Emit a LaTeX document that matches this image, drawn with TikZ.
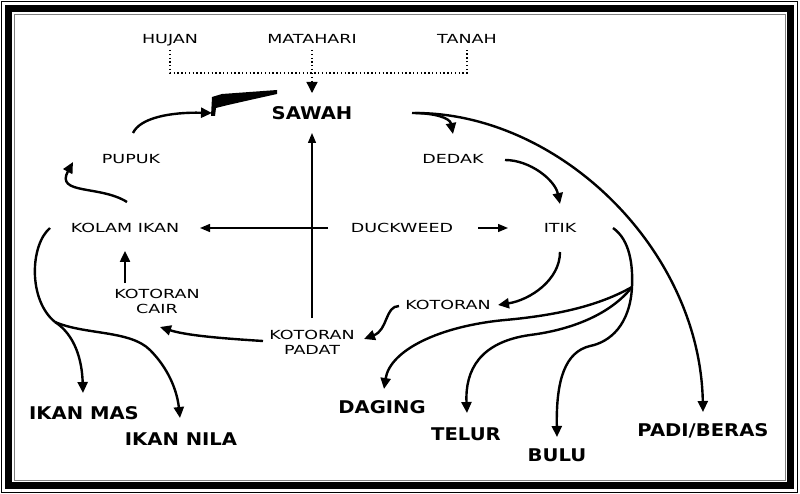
\documentclass[tikz,border=0pt]{standalone}
\usepackage{fontspec}
\usetikzlibrary{arrows.meta,calc}
\newfontfamily\rf[FakeStretch=1.4]{DejaVu Sans}
\newfontfamily\bff[FakeStretch=1.12]{DejaVu Sans}
\tikzset{
  rl/.style={font=\rf\fontsize{12.5}{15}\selectfont, inner sep=0pt, text height=9pt, text depth=0pt},
  rl2/.style={font=\rf\fontsize{12.5}{15}\selectfont, inner sep=0pt, align=center},
  bl/.style={font=\bff\bfseries\fontsize{17.5}{20}\selectfont, inner sep=0pt, text height=13pt, text depth=0pt},
  thk/.style={line width=2.4pt, -{Triangle[length=11pt,width=10pt]}},
  thkline/.style={line width=2.4pt},
  thn/.style={line width=1.3pt, -{Triangle[length=10pt,width=8pt]}},
  dot/.style={line width=1.3pt, dash pattern=on 1.3pt off 2.5pt},
}
\begin{document}
\begin{tikzpicture}[x=1pt,y=-1pt]
\useasboundingbox (0,0) rectangle (800,494);
\fill[white] (0,0) rectangle (800,494);
% frame
\draw[line width=1pt] (1.5,1.5) rectangle (797.5,492.5);
\draw[line width=7pt] (8.5,8.5) rectangle (790,485);
\draw[line width=0.6pt, gray] (14,14) rectangle (785,480);

% nodes
\node[rl] (hujan) at (170,39) {HUJAN};
\node[rl] (matahari) at (312,39) {MATAHARI};
\node[rl] (tanah) at (467,39) {TANAH};
\node[bl] (sawah) at (312,113) {SAWAH};
\node[rl] (pupuk) at (131,159) {PUPUK};
\node[rl] (dedak) at (453,159) {DEDAK};
\node[rl] (kolam) at (125,228) {KOLAM IKAN};
\node[rl] (duck) at (402,228) {DUCKWEED};
\node[rl] (itik) at (560,228) {ITIK};
\node[rl2] (cair) at (157,301) {KOTORAN\\CAIR};
\node[rl] (kotoran) at (448,305) {KOTORAN};
\node[rl2] (padat) at (312,342) {KOTORAN\\PADAT};
\node[bl] (ikanmas) at (84,413) {IKAN MAS};
\node[bl] (ikannila) at (181,439) {IKAN NILA};
\node[bl] (daging) at (382,407) {DAGING};
\node[bl] (telur) at (466,434) {TELUR};
\node[bl] (bulu) at (557,455) {BULU};
\node[bl] (padi) at (703,430) {PADI/BERAS};

% dotted inputs
\coordinate (dj) at (312,73);
\draw[dot] ($(hujan)+(0,11)$) -- (hujan |- dj) -- (tanah |- dj) -- ($(tanah)+(0,11)$);
\draw[dot] ($(matahari)+(0,11)$) -- (dj);
\draw[dot, -{Triangle[length=11pt,width=11pt]}] (dj) -- ($(sawah)+(0,-20)$);

% blob near sawah
\fill (211,116) -- (212,97) -- (222,94) -- (277,90) -- (277,94) -- (250,100) -- (228,105) -- (216,108) -- (215,116) -- cycle;

% thin straight arrows
\draw[thn] ($(padat)+(0,-24)$) -- ($(sawah)+(0,20)$);
\draw[thn] ($(duck)+(-74,0)$) -- ($(kolam)+(75,0)$);
\draw[thn] ($(duck)+(76,0)$) -- ($(itik)+(-52,0)$);
\draw[thk] ($(cair)+(-32,-18)$) -- ($(kolam)+(0,23)$);

% curved arrows
\draw[thk] ($(pupuk)+(2,-26)$) .. controls (140,118) and (170,112) .. ($(sawah)+(-100,0)$);
\draw[thk] ($(kolam)+(2,-26)$) .. controls (100,185) and (55,195) .. ($(pupuk)+(-58,3)$);
\draw[thk] ($(sawah)+(100,0)$) .. controls (435,113) and (450,118) .. ($(dedak)+(0,-25)$);
\draw[thk] ($(sawah)+(103,0)$) .. controls (560,113) and (700,250) .. ($(padi)+(0,-18)$);
\draw[thk] ($(dedak)+(52,1)$) .. controls (530,160) and (555,180) .. ($(itik)+(0,-24)$);
\draw[thk] ($(itik)+(0,24)$) .. controls (560,280) and (530,300) .. ($(kotoran)+(50,0)$);
\draw[thk] ($(kotoran)+(-49,1)$) .. controls (385,306) and (388,330) .. ($(padat)+(52,-3)$);
\draw[thk] ($(padat)+(-49,-1)$) .. controls (215,338) and (185,335) .. ($(cair)+(3,26)$);

% itik products
\coordinate (ib) at (632,287);
\draw[thkline] ($(itik)+(53,0)$) .. controls (630,240) and (633,265) .. (ib);
\draw[thk] (ib) .. controls (600,305) and (560,315) .. (505,320) .. controls (440,326) and (390,350) .. ($(daging)+(2,-18)$);
\draw[thk] (ib) .. controls (610,315) and (570,330) .. (530,335) .. controls (480,342) and (465,370) .. ($(telur)+(1,-21)$);
\draw[thk] (ib) .. controls (630,325) and (610,342) .. (590,346) .. controls (565,352) and (556,380) .. ($(bulu)+(0,-18)$);

% kolam products
\coordinate (kb) at (55,322);
\draw[thkline] ($(kolam)+(-75,0)$) .. controls (30,245) and (28,300) .. (kb);
\draw[thk] (kb) .. controls (75,335) and (82,360) .. ($(ikanmas)+(-1,-20)$);
\draw[thk] (kb) .. controls (85,335) and (130,330) .. (150,350) .. controls (168,368) and (177,390) .. ($(ikannila)+(-1,-21)$);
\end{tikzpicture}
\end{document}
